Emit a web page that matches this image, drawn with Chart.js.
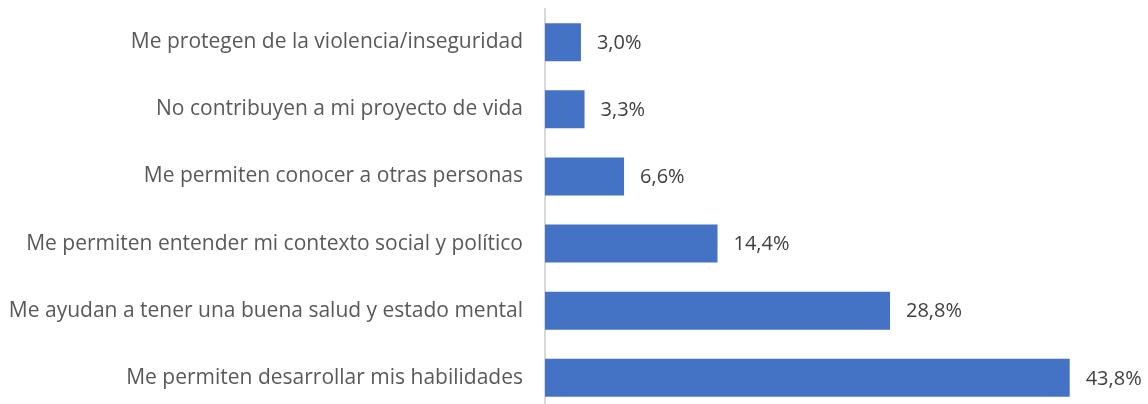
<!DOCTYPE html>
<html>
<head>
<meta charset="utf-8">
<script src="https://cdn.jsdelivr.net/npm/chart.js@4/dist/chart.umd.min.js"></script>
<style>
  html, body { margin: 0; padding: 0; background: #fff; }
  #wrap { width: 1148px; height: 404px; overflow: hidden; }
  #box { width: 1148px; height: 456px; margin-top: -18px; }
</style>
</head>
<body>
<div id="wrap"><div id="box"><canvas id="chart"></canvas></div></div>
<script>
// chart data
const categories = [
  'Me protegen de la violencia/inseguridad',
  'No contribuyen a mi proyecto de vida',
  'Me permiten conocer a otras personas',
  'Me permiten entender mi contexto social y político',
  'Me ayudan a tener una buena salud y estado mental',
  'Me permiten desarrollar mis habilidades'
];
const values = [3.0, 3.3, 6.6, 14.4, 28.8, 43.8];

// value labels at end of bars
const valueLabels = {
  id: 'valueLabels',
  afterDatasetsDraw(chart) {
    const ctx = chart.ctx;
    const meta = chart.getDatasetMeta(0);
    ctx.save();
    ctx.font = '20px "Open Sans"';
    ctx.fillStyle = '#404040';
    ctx.textBaseline = 'middle';
    meta.data.forEach((bar, i) => {
      ctx.fillText(values[i].toFixed(1).replace('.', ',') + '%', bar.x + 16, bar.y + 1);
    });
    ctx.restore();
  }
};

new Chart(document.getElementById('chart'), {
  type: 'bar',
  data: {
    labels: categories,
    datasets: [{
      data: values,
      backgroundColor: '#4472C4',
      barPercentage: 0.565,
      categoryPercentage: 1
    }]
  },
  options: {
    indexAxis: 'y',
    responsive: true,
    maintainAspectRatio: false,
    animation: false,
    layout: { padding: { top: 0, bottom: 0, left: 0, right: 28 } },
    plugins: { legend: { display: false }, tooltip: { enabled: false } },
    scales: {
      x: { display: false, min: 0, max: 48 },
      y: {
        afterFit: s => { s.width = 545; },
        grid: { display: false },
        border: { display: true, color: '#d9d9d9', width: 2 },
        ticks: { color: '#595959', font: { family: 'Open Sans', size: 21 }, padding: 14 }
      }
    }
  },
  plugins: [valueLabels]
});
</script>
</body>
</html>
